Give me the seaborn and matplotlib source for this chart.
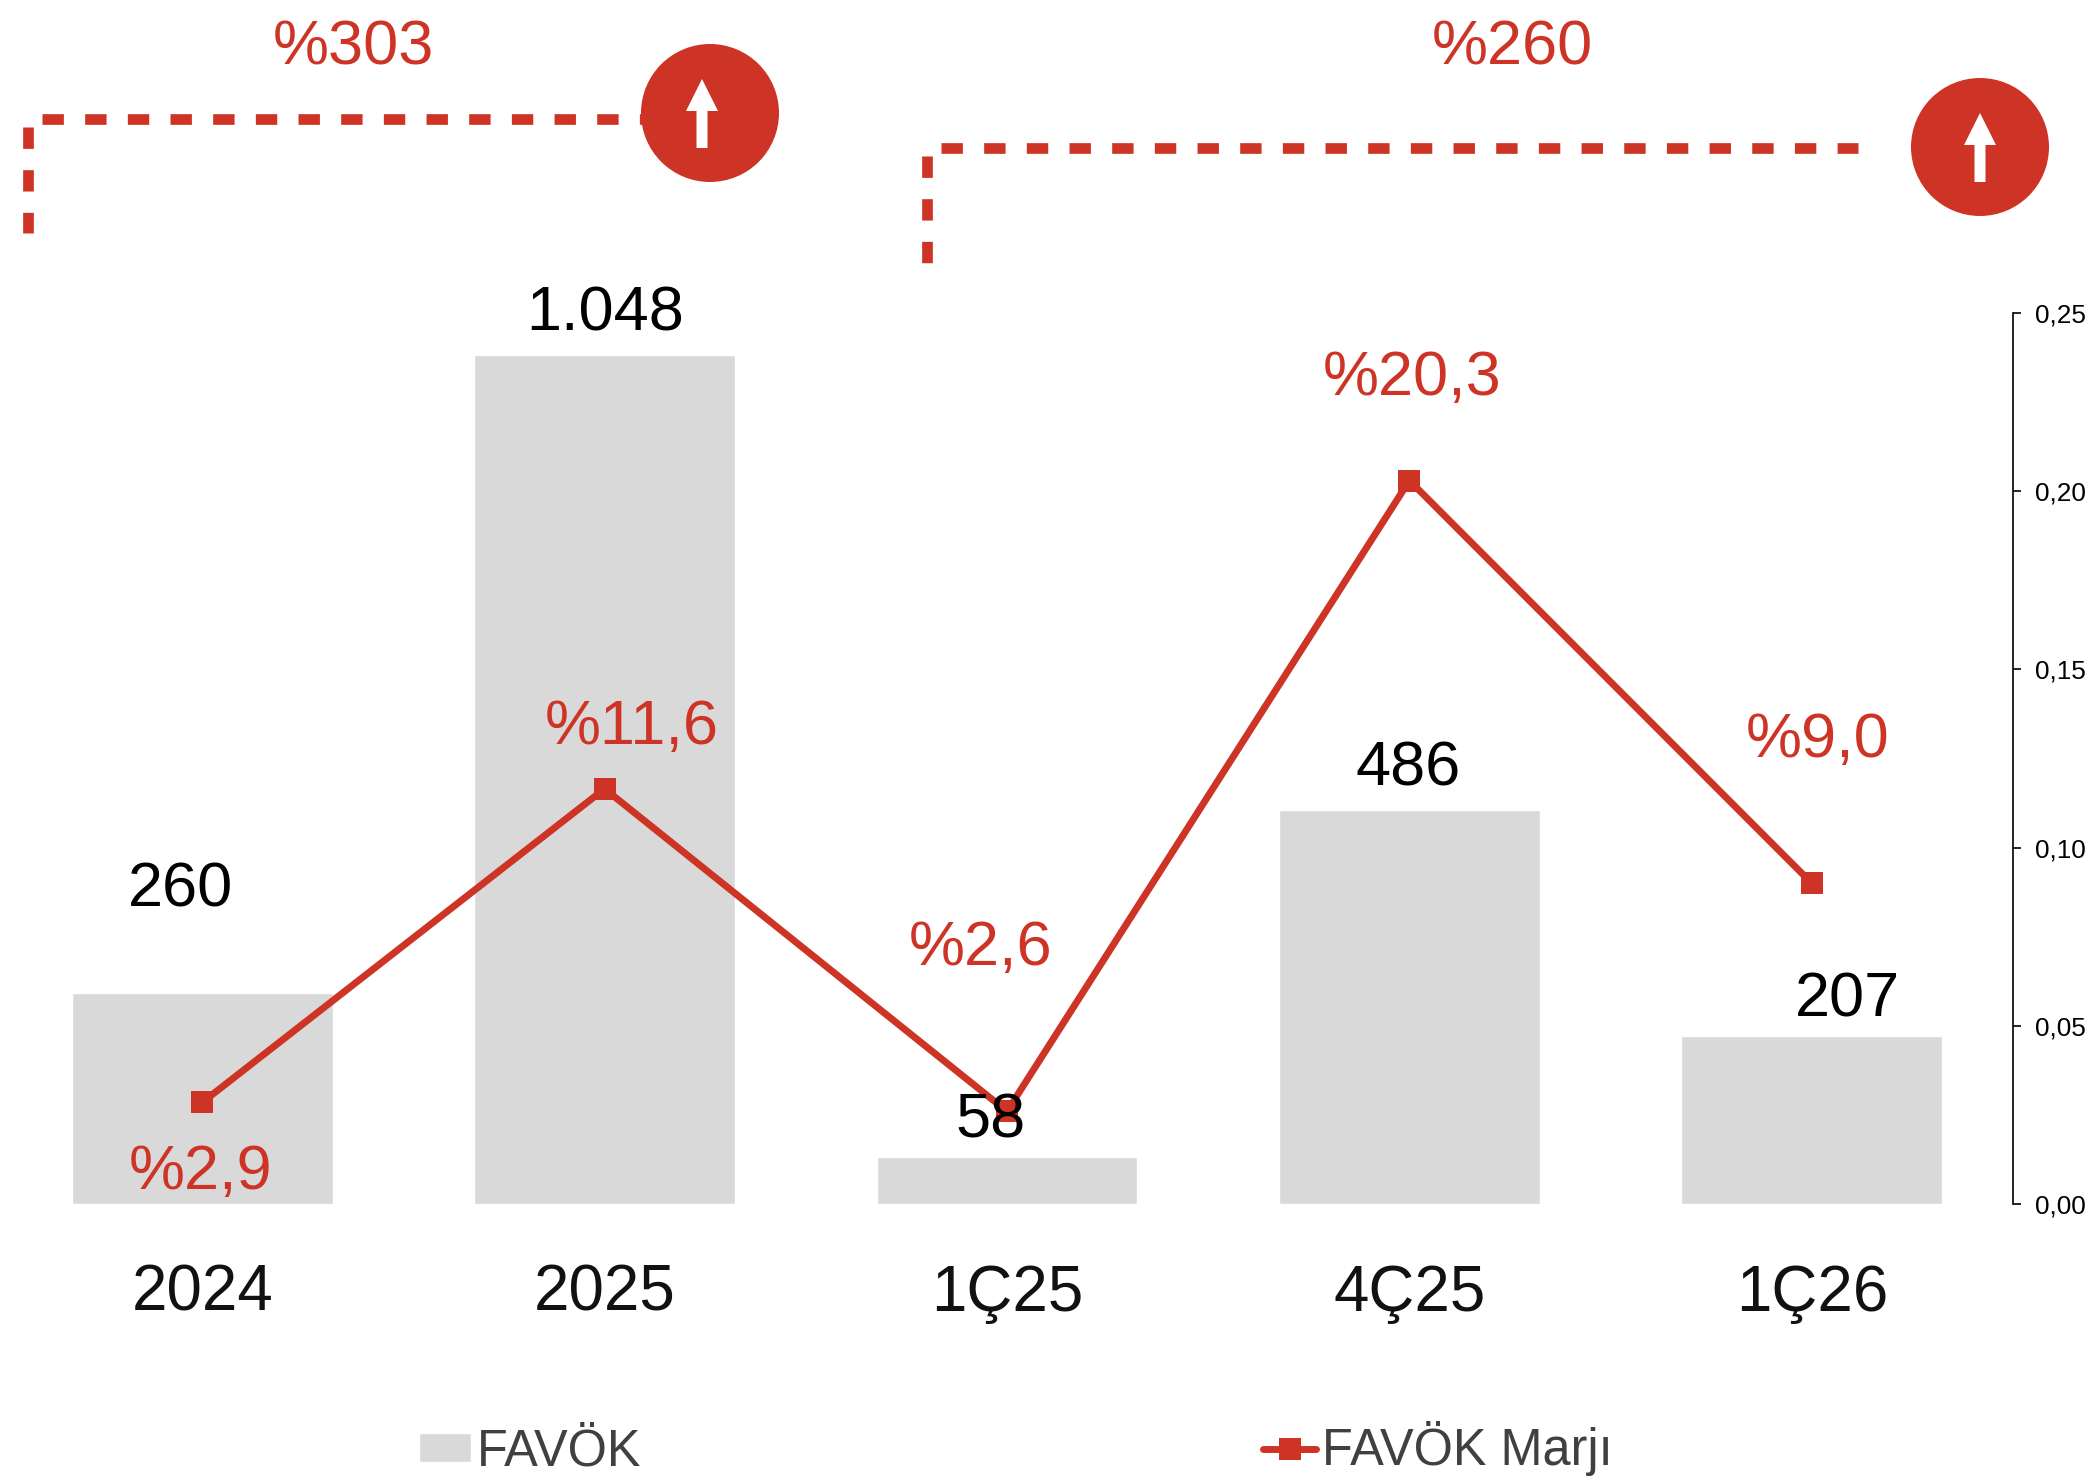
import pandas as pd
import numpy as np
import matplotlib
matplotlib.use("Agg")
import matplotlib.pyplot as plt
from matplotlib.patches import Circle, Polygon
import seaborn as sns

# data
periods = ["2024", "2025", "1Ç25", "4Ç25", "1Ç26"]
favok = [260, 1048, 58, 486, 207]
favok_labels = ["260", "1.048", "58", "486", "207"]
marj = [0.0285, 0.1165, 0.026, 0.203, 0.090]
marj_labels = ["%2,9", "%11,6", "%2,6", "%20,3", "%9,0"]
marj_ticks = [0.00, 0.05, 0.10, 0.15, 0.20, 0.25]
marj_tick_labels = ["0,00", "0,05", "0,10", "0,15", "0,20", "0,25"]
growth_labels = ["%303", "%260"]

RED = "#CD3426"
GREY = "#D9D9D9"
W, H = 2096, 1480

sns.set_theme(style="white")
plt.rcParams["font.family"] = ["Liberation Sans", "DejaVu Sans"]

df = pd.DataFrame({"donem": periods, "favok": favok, "marj": marj})

fig = plt.figure(figsize=(W / 100, H / 100), dpi=100)
ax = fig.add_axes([1 / W, (H - 1204) / H, 2012 / W, 891 / H])

# bars and line
sns.barplot(data=df, x="donem", y="favok", color=GREY, saturation=1, width=0.648, ax=ax, label="FAVÖK")
ax.get_legend().remove()
ax.set_ylim(0, 1100)
ax.set_xlim(-0.5, 4.5)
ax.set_xlabel("")
ax.set_ylabel("")
ax.set_yticks([])
ax.tick_params(axis="x", length=0, labelsize=45.8, pad=43, colors="#111111")
sns.despine(ax=ax, left=True, bottom=True)

ax2 = ax.twinx()
sns.lineplot(data=df, x="donem", y="marj", color=RED, linewidth=5, marker="s", markersize=16,
             markeredgewidth=0, sort=False, errorbar=None, ax=ax2, label="FAVÖK Marjı")
ax2.get_legend().remove()
ax2.set_ylim(0, 0.25)
ax2.set_xlim(-0.5, 4.5)
ax2.set_xlabel("")
ax2.set_ylabel("")
ax2.set_yticks(marj_ticks)
ax2.set_yticklabels(marj_tick_labels)
ax2.tick_params(axis="y", right=True, length=6, width=1.2, direction="out", labelsize=18.8, pad=10, colors="black")
for side in ["top", "left", "bottom"]:
    ax2.spines[side].set_visible(False)
ax2.spines["right"].set_visible(True)
ax2.spines["right"].set_color("black")
ax2.spines["right"].set_linewidth(1.2)

# value labels, offsets in pixels from the mark
favok_off = [(-22, 103), (1, 41), (-16, 36), (-1, 41), (36, 36)]
for i, (v, t) in enumerate(zip(favok, favok_labels)):
    ax2.annotate(t, (i, v), xycoords=ax.transData, xytext=favok_off[i], textcoords="offset pixels",
                 ha="center", va="center", fontsize=45.4, color="black")

marj_off = [(-2, -70), (27, 61), (-26, 163), (3, 102), (6, 143)]
for i, (v, t) in enumerate(zip(marj, marj_labels)):
    ax2.annotate(t, (i, v), xytext=marj_off[i], textcoords="offset pixels",
                 ha="center", va="center", fontsize=45.4, color=RED)

# top brackets, in a pixel overlay
top = fig.add_axes([0, 0, 1, 1], facecolor="none")
top.set_xlim(0, W)
top.set_ylim(H, 0)
top.axis("off")

dash = (0, (2.0, 1.99))
bracket_lw = 7.7


def growth_marker(x_v, x0, x1, y_h, y_end, cx, cy, arrow_x, label, label_x):
    top.plot([x0, x1], [y_h, y_h], color=RED, lw=bracket_lw, ls=dash, dash_capstyle="butt")
    top.plot([x_v, x_v], [y_h + 8, y_end], color=RED, lw=bracket_lw, ls=dash, dash_capstyle="butt")
    top.add_patch(Circle((cx, cy), 69, color=RED, lw=0, zorder=3))
    tip = cy - 34
    arrow = [(arrow_x, tip), (arrow_x + 16, tip + 32), (arrow_x + 5.5, tip + 32), (arrow_x + 5.5, tip + 69),
             (arrow_x - 5.5, tip + 69), (arrow_x - 5.5, tip + 32), (arrow_x - 16, tip + 32)]
    top.add_patch(Polygon(arrow, closed=True, color="white", lw=0, zorder=4))
    top.text(label_x, 48, label, color=RED, fontsize=45.4, ha="center", va="center")


growth_marker(28, 42, 660, 119, 233, 710, 113, 702, growth_labels[0], 353)
growth_marker(927, 941, 1858, 148, 263, 1980, 147, 1980, growth_labels[1], 1512)

# legend
handles = [ax.containers[0].patches[0], ax2.get_lines()[0]]
leg = fig.legend(handles, ["FAVÖK", "FAVÖK Marjı"], ncol=2, loc="center left",
                 bbox_to_anchor=(419 / W, (H - 1449) / H), frameon=False, fontsize=36.4,
                 handlelength=1.03, handleheight=0.5, handletextpad=0.12, columnspacing=12.3,
                 borderpad=0, borderaxespad=0, labelcolor="#404040")

fig.savefig("out.png", dpi=100, facecolor="white")
